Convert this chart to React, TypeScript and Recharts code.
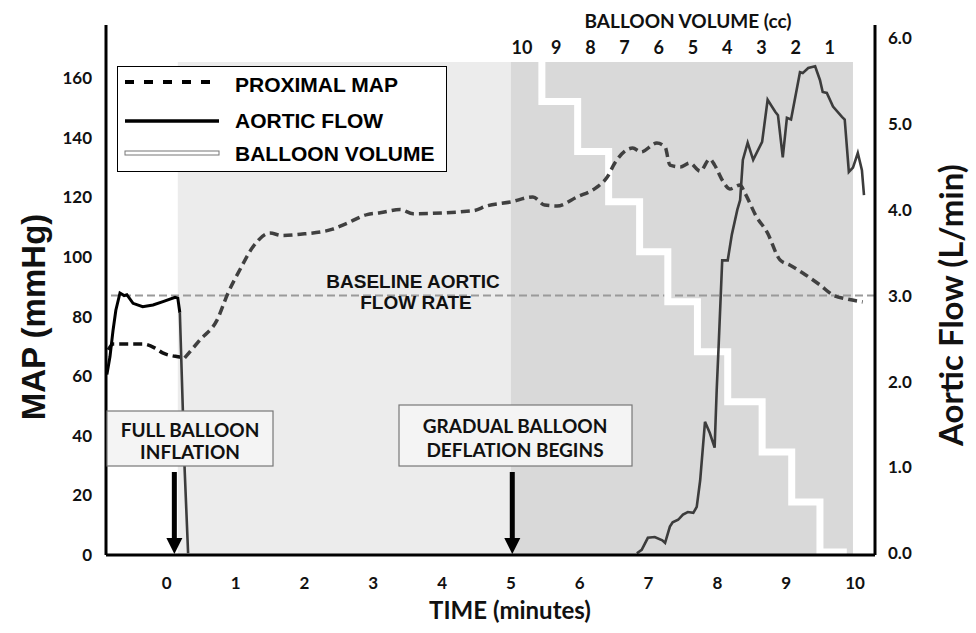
import { ComposedChart, Line, XAxis, YAxis, ReferenceArea, ReferenceLine, ReferenceDot, Legend } from 'recharts';

// time in minutes, MAP in mmHg, flow in L/min, balloon in cc
const mapInflation = [
    { t: -0.85, map: 68.8 }, { t: -0.78, map: 70.8 }, { t: -0.35, map: 70.8 }, { t: -0.17, map: 69.4 },
    { t: -0.06, map: 67.8 }, { t: 0.19, map: 66.4 }, { t: 0.26, map: 66.1 },
];

const mapAfter = [
    { t: 0.26, map: 66.1 }, { t: 0.48, map: 72.1 }, { t: 0.73, map: 78.8 }, { t: 0.89, map: 87.9 },
    { t: 1.06, map: 95.6 }, { t: 1.25, map: 103.3 }, { t: 1.5, map: 108.0 }, { t: 1.67, map: 107.2 },
    { t: 1.94, map: 107.6 }, { t: 2.41, map: 109.3 }, { t: 2.62, map: 111.3 }, { t: 2.91, map: 114.2 },
    { t: 3.1, map: 114.8 }, { t: 3.39, map: 115.9 }, { t: 3.58, map: 114.5 }, { t: 4.45, map: 115.5 },
    { t: 4.65, map: 117.1 }, { t: 4.99, map: 118.4 }, { t: 5.32, map: 120.1 }, { t: 5.49, map: 117.4 },
    { t: 5.67, map: 117.1 }, { t: 5.96, map: 120.1 }, { t: 6.25, map: 123.4 }, { t: 6.4, map: 126.8 },
    { t: 6.51, map: 131.5 }, { t: 6.77, map: 136.5 }, { t: 6.89, map: 135.2 }, { t: 7.12, map: 138.2 },
    { t: 7.24, map: 136.9 }, { t: 7.31, map: 130.8 }, { t: 7.46, map: 130.2 }, { t: 7.6, map: 131.5 },
    { t: 7.75, map: 128.8 }, { t: 7.89, map: 132.8 }, { t: 7.96, map: 130.8 }, { t: 8.07, map: 125.8 },
    { t: 8.18, map: 122.8 }, { t: 8.33, map: 124.1 }, { t: 8.4, map: 121.4 }, { t: 8.57, map: 113.4 },
    { t: 8.72, map: 108.4 }, { t: 8.91, map: 99.0 }, { t: 9.05, map: 97.3 }, { t: 9.24, map: 94.6 },
    { t: 9.49, map: 90.6 }, { t: 9.68, map: 87.2 }, { t: 9.88, map: 85.9 }, { t: 10.11, map: 84.9 },
];

const flowBaseline = [
    { t: -0.87, flow: 2.08 }, { t: -0.825, flow: 2.29 }, { t: -0.78, flow: 2.6 }, { t: -0.74, flow: 2.83 },
    { t: -0.68, flow: 3.03 }, { t: -0.62, flow: 3.0 }, { t: -0.58, flow: 3.01 }, { t: -0.49, flow: 2.91 },
    { t: -0.35, flow: 2.87 }, { t: -0.2, flow: 2.89 }, { t: -0.055, flow: 2.93 }, { t: 0.12, flow: 2.98 },
    { t: 0.16, flow: 2.97 }, { t: 0.19, flow: 2.8 },
];

const flowAfter = [
    { t: 0.19, flow: 2.8 }, { t: 0.22, flow: 2.02 }, { t: 0.26, flow: 0.97 }, { t: 0.31, flow: 0 },
    { t: 3.5, flow: null },
    { t: 6.83, flow: 0 }, { t: 6.9, flow: 0.04 }, { t: 6.99, flow: 0.18 }, { t: 7.09, flow: 0.19 },
    { t: 7.2, flow: 0.15 }, { t: 7.24, flow: 0.12 }, { t: 7.31, flow: 0.31 }, { t: 7.35, flow: 0.36 },
    { t: 7.43, flow: 0.39 }, { t: 7.5, flow: 0.45 }, { t: 7.57, flow: 0.48 }, { t: 7.65, flow: 0.47 },
    { t: 7.7, flow: 0.54 }, { t: 7.75, flow: 0.85 }, { t: 7.82, flow: 1.53 }, { t: 7.89, flow: 1.4 },
    { t: 7.96, flow: 1.23 }, { t: 7.99, flow: 1.9 }, { t: 8.02, flow: 2.45 }, { t: 8.07, flow: 3.41 },
    { t: 8.15, flow: 3.41 }, { t: 8.21, flow: 3.71 }, { t: 8.29, flow: 4.0 }, { t: 8.33, flow: 4.11 },
    { t: 8.37, flow: 4.58 }, { t: 8.44, flow: 4.78 }, { t: 8.52, flow: 4.58 }, { t: 8.65, flow: 4.79 },
    { t: 8.73, flow: 5.28 }, { t: 8.84, flow: 5.14 }, { t: 8.88, flow: 5.1 }, { t: 8.95, flow: 4.61 },
    { t: 9.01, flow: 5.07 }, { t: 9.07, flow: 5.05 }, { t: 9.2, flow: 5.6 }, { t: 9.24, flow: 5.59 },
    { t: 9.32, flow: 5.65 }, { t: 9.42, flow: 5.67 }, { t: 9.49, flow: 5.51 }, { t: 9.53, flow: 5.37 },
    { t: 9.59, flow: 5.36 }, { t: 9.68, flow: 5.2 }, { t: 9.81, flow: 5.08 }, { t: 9.85, flow: 5.05 },
    { t: 9.91, flow: 4.44 }, { t: 9.97, flow: 4.49 }, { t: 10.04, flow: 4.66 }, { t: 10.1, flow: 4.46 },
    { t: 10.13, flow: 4.17 },
];

const balloonSteps = [
    { t: 5.06, vol: 10 }, { t: 5.45, vol: 9 }, { t: 5.97, vol: 8 }, { t: 6.42, vol: 7 },
    { t: 6.87, vol: 6 }, { t: 7.28, vol: 5 }, { t: 7.71, vol: 4 }, { t: 8.15, vol: 3 },
    { t: 8.65, vol: 2 }, { t: 9.08, vol: 1 }, { t: 9.49, vol: 0 }, { t: 9.88, vol: 0 },
];

const timeTicks = [0, 1, 2, 3, 4, 5, 6, 7, 8, 9, 10];
const mapTicks = [0, 20, 40, 60, 80, 100, 120, 140, 160];
const flowTicks = [0, 1, 2, 3, 4, 5, 6];
const volumeTicks = [1, 2, 3, 4, 5, 6, 7, 8, 9, 10];
const baselineFlow = 3.0;
const inflationTime = 0.11;
const deflationTime = 5.02;
const phases = [
    { from: 0.16, to: 5.0, fill: '#ececec' },
    { from: 5.0, to: 9.97, fill: '#d9d9d9' },
];
const phaseTop = 165.4;

const calibri = 'Lato, "Open Sans", sans-serif';
const arial = '"Liberation Sans", Arial, sans-serif';
const tickStyle = { fill: '#111', fontSize: 17, fontWeight: 700, fontFamily: calibri };
const axisLineStyle = { stroke: '#000', strokeWidth: 3 };

const Arrow = (props: any) => {
    const { cx, cy } = props;
    return (
        <g>
            <line x1={cx} y1={cy - 83} x2={cx} y2={cy - 16} stroke="#000" strokeWidth={5} />
            <polygon points={`${cx - 8},${cy - 17} ${cx + 8},${cy - 17} ${cx},${cy - 1}`} fill="#000" />
        </g>
    );
};

const renderVolumeTick = (props: any) => {
    const { x, payload, index } = props;
    return (
        <text key={index} x={x} y={47} textAnchor="middle" dominantBaseline="central"
            style={{ fontFamily: calibri, fontWeight: 700, fontSize: 18, fill: '#111' }}>
            {payload.value}
        </text>
    );
};

const LegendBox = () => (
    <div style={{ width: 330, height: 106, border: '1.5px solid #000', background: '#fff', boxSizing: 'border-box' }}>
        <svg width={327} height={103} style={{ display: 'block' }}>
            <line x1={7} y1={15} x2={101} y2={15} stroke="#000" strokeWidth={4} strokeDasharray="9 10" />
            <line x1={7} y1={54} x2={101} y2={54} stroke="#000" strokeWidth={3.5} />
            <rect x={7} y={84} width={94} height={4} fill="#fff" stroke="#777" strokeWidth={1} />
            <g style={{ fontFamily: arial, fontWeight: 700, fontSize: 21, fill: '#000' }}>
                <text x={117} y={17} dominantBaseline="central">PROXIMAL MAP</text>
                <text x={117} y={53} dominantBaseline="central">AORTIC FLOW</text>
                <text x={117} y={86} dominantBaseline="central">BALLOON VOLUME</text>
            </g>
        </svg>
    </div>
);

export default function App() {
    return (
        <div style={{ position: 'absolute', left: 0, top: 0, width: 976, height: 633, background: '#fff' }}>
            <ComposedChart width={976} height={633} margin={{ top: -5, right: 41, bottom: 48, left: 46 }}>
                <XAxis
                    xAxisId="time"
                    type="number"
                    dataKey="t"
                    domain={[-0.883, 10.29]}
                    allowDataOverflow
                    ticks={timeTicks}
                    interval={0}
                    tick={tickStyle}
                    tickLine={false}
                    tickMargin={16}
                    axisLine={axisLineStyle}
                    height={30}
                />
                <XAxis
                    xAxisId="vol"
                    orientation="top"
                    type="number"
                    dataKey="v"
                    domain={[-0.32, 22.16]}
                    reversed
                    allowDataOverflow
                    ticks={volumeTicks}
                    interval={0}
                    tick={renderVolumeTick}
                    tickLine={false}
                    axisLine={false}
                    height={30}
                />
                <YAxis
                    yAxisId="map"
                    type="number"
                    domain={[0, 177.8]}
                    allowDataOverflow
                    ticks={mapTicks}
                    interval={0}
                    tick={tickStyle}
                    tickLine={false}
                    tickMargin={8}
                    axisLine={axisLineStyle}
                    width={60}
                />
                <YAxis
                    yAxisId="flow"
                    orientation="right"
                    type="number"
                    domain={[-0.02, 6.15]}
                    allowDataOverflow
                    ticks={flowTicks}
                    interval={0}
                    tickFormatter={(v: number) => v.toFixed(1)}
                    tick={tickStyle}
                    tickLine={false}
                    tickMargin={7}
                    axisLine={axisLineStyle}
                    width={60}
                />
                <YAxis yAxisId="balloon" type="number" domain={[-0.06, 10.53]} allowDataOverflow hide width={0} />

                {phases.map((p) => (
                    <ReferenceArea key={p.from} xAxisId="time" yAxisId="map" x1={p.from} x2={p.to}
                        y1={0} y2={phaseTop} fill={p.fill} fillOpacity={1} stroke="none" />
                ))}

                <ReferenceLine xAxisId="time" yAxisId="flow" y={baselineFlow} stroke="#9a9a9a"
                    strokeWidth={2} strokeDasharray="8 4" />

                <Line xAxisId="time" yAxisId="balloon" data={balloonSteps} dataKey="vol" type="stepAfter"
                    stroke="#fff" strokeWidth={7} dot={false} isAnimationActive={false} legendType="none" />

                <Line xAxisId="time" yAxisId="map" data={mapInflation} dataKey="map" type="monotone"
                    stroke="#111" strokeWidth={3.5} strokeDasharray="9 5" dot={false} isAnimationActive={false} />
                <Line xAxisId="time" yAxisId="map" data={mapAfter} dataKey="map" type="monotone"
                    stroke="#404040" strokeWidth={3.5} strokeDasharray="9 5" dot={false} isAnimationActive={false} />

                <Line xAxisId="time" yAxisId="flow" data={flowBaseline} dataKey="flow" type="linear"
                    stroke="#000" strokeWidth={3} dot={false} isAnimationActive={false} />
                <Line xAxisId="time" yAxisId="flow" data={flowAfter} dataKey="flow" type="linear"
                    stroke="#3c3c3c" strokeWidth={2.6} dot={false} connectNulls={false} isAnimationActive={false} />

                <ReferenceDot xAxisId="time" yAxisId="map" x={inflationTime} y={0} r={0} shape={<Arrow />} />
                <ReferenceDot xAxisId="time" yAxisId="map" x={deflationTime} y={0} r={0} shape={<Arrow />} />

                <Legend
                    layout="vertical"
                    align="center"
                    verticalAlign="middle"
                    content={<LegendBox />}
                    wrapperStyle={{ position: 'absolute', left: 117, top: 66, width: 330, height: 106 }}
                />
            </ComposedChart>

            <svg width={976} height={633} style={{ position: 'absolute', left: 0, top: 0, pointerEvents: 'none' }}>
                <text x={688} y={20} textAnchor="middle" dominantBaseline="central"
                    style={{ fontFamily: calibri, fontWeight: 700, fontSize: 19, fill: '#111' }}>
                    BALLOON VOLUME (cc)
                </text>
                <g style={{ fontFamily: arial, fontWeight: 700, fontSize: 19, fill: '#111' }}>
                    <text x={413} y={281} textAnchor="middle" dominantBaseline="central">BASELINE AORTIC</text>
                    <text x={416} y={302} textAnchor="middle" dominantBaseline="central">FLOW RATE</text>
                </g>

                <rect x={107} y={411} width={166} height={55} fill="#f4f4f4" stroke="#777" strokeWidth={1.2} />
                <rect x={399} y={405} width={233} height={61} fill="#f4f4f4" stroke="#777" strokeWidth={1.2} />
                <g style={{ fontFamily: calibri, fontWeight: 700, fontSize: 19, fill: '#111' }}>
                    <text x={190} y={429} textAnchor="middle" dominantBaseline="central">FULL BALLOON</text>
                    <text x={190} y={451} textAnchor="middle" dominantBaseline="central">INFLATION</text>
                    <text x={515} y={425} textAnchor="middle" dominantBaseline="central">GRADUAL BALLOON</text>
                    <text x={515} y={449} textAnchor="middle" dominantBaseline="central">DEFLATION BEGINS</text>
                </g>

                <text x={510} y={609} textAnchor="middle" dominantBaseline="central"
                    style={{ fontFamily: calibri, fontWeight: 700, fontSize: 24, fill: '#111' }}>
                    TIME (minutes)
                </text>
                <text x={33} y={317} textAnchor="middle" dominantBaseline="central" transform="rotate(-90 33 317)"
                    style={{ fontFamily: arial, fontWeight: 700, fontSize: 33, fill: '#111' }}>
                    MAP (mmHg)
                </text>
                <text x={950} y={305} textAnchor="middle" dominantBaseline="central" transform="rotate(-90 950 305)"
                    style={{ fontFamily: calibri, fontWeight: 700, fontSize: 33, fill: '#111' }}>
                    Aortic Flow (L/min)
                </text>
            </svg>
        </div>
    );
}
